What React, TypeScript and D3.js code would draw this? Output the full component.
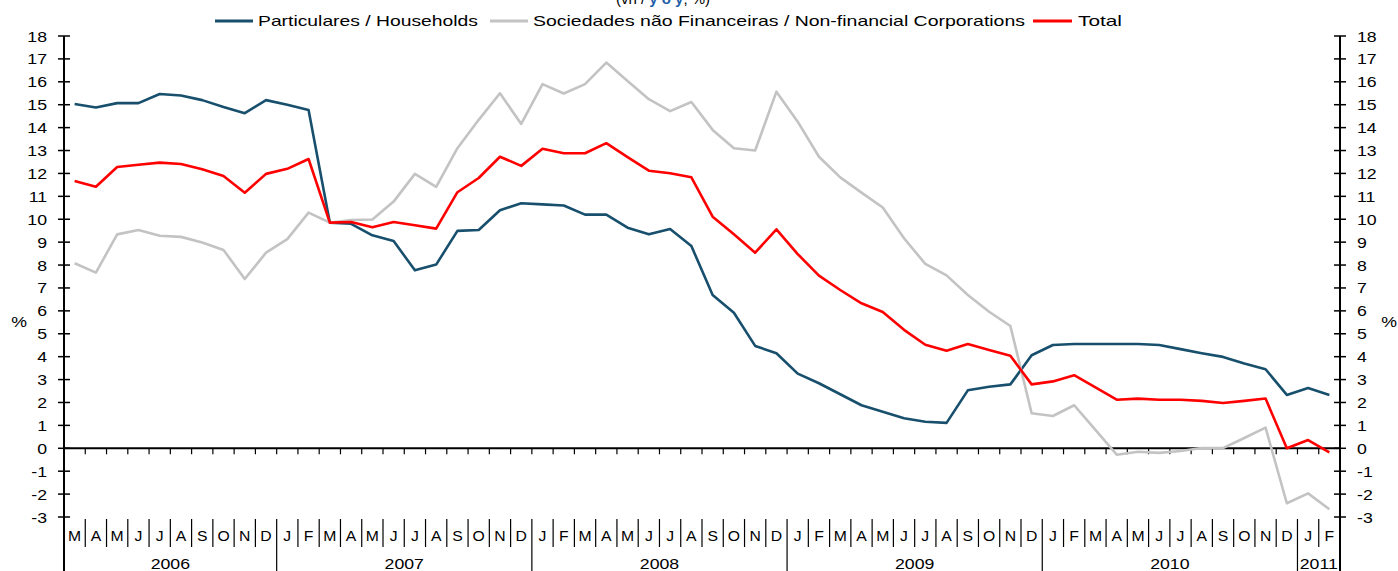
import React from "react";
import * as d3 from "d3";

const monthLabels = [
  "M","A","M","J","J","A","S","O","N","D",
  "J","F","M","A","M","J","J","A","S","O","N","D",
  "J","F","M","A","M","J","J","A","S","O","N","D",
  "J","F","M","A","M","J","J","A","S","O","N","D",
  "J","F","M","A","M","J","J","A","S","O","N","D",
  "J","F",
];
const yearLabels = ["2006", "2007", "2008", "2009", "2010", "2011"];
const yearMonthCounts = [10, 12, 12, 12, 12, 2];

const households = [
  15.03, 14.88, 15.07, 15.07, 15.47, 15.4, 15.2, 14.9, 14.63, 15.2,
  15.0, 14.77, 9.85, 9.8, 9.3, 9.05, 7.77, 8.02, 9.49, 9.53, 10.39, 10.7,
  10.65, 10.6, 10.2, 10.2, 9.63, 9.34, 9.57, 8.83, 6.69, 5.92, 4.47, 4.15,
  3.26, 2.84, 2.36, 1.88, 1.6, 1.31, 1.16, 1.11, 2.53, 2.69, 2.79, 4.06,
  4.51, 4.55, 4.55, 4.55, 4.55, 4.51, 4.33, 4.15, 3.99, 3.7, 3.45,
  2.33, 2.63, 2.33,
];
const corporations = [
  8.08, 7.67, 9.34, 9.53, 9.28, 9.23, 8.98, 8.66, 7.39, 8.54,
  9.13, 10.29, 9.85, 9.97, 9.99, 10.77, 11.98, 11.41, 13.1, 14.34, 15.5, 14.16,
  15.9, 15.49, 15.9, 16.84, 16.04, 15.24, 14.72, 15.12, 13.9, 13.1, 13.0, 15.57,
  14.26, 12.73, 11.83, 11.16, 10.51, 9.17, 8.05, 7.55, 6.69, 5.96, 5.34, 1.53,
  1.41, 1.88, 0.8, -0.28, -0.15, -0.2, -0.12, 0.01, 0.01, 0.45, 0.9,
  -2.4, -1.97, -2.66,
];
const total = [
  11.67, 11.42, 12.28, 12.38, 12.47, 12.41, 12.18, 11.89, 11.16, 11.98,
  12.2, 12.63, 9.85, 9.88, 9.65, 9.88, 9.74, 9.59, 11.18, 11.8, 12.73, 12.33,
  13.08, 12.88, 12.88, 13.32, 12.71, 12.12, 12.01, 11.83, 10.11, 9.34, 8.54, 9.56,
  8.48, 7.54, 6.91, 6.33, 5.95, 5.17, 4.52, 4.26, 4.55, 4.29, 4.04, 2.79,
  2.92, 3.19, 2.66, 2.12, 2.17, 2.12, 2.12, 2.07, 1.98, 2.07, 2.17,
  0.0, 0.36, -0.18,
];
const yTicks = d3.range(-3, 19);

const seriesNames = [
  "Particulares / Households",
  "Sociedades não Financeiras / Non-financial Corporations",
  "Total",
];

const W = 1398;
const H = 571;
const X0 = 64;
const X1 = 1340;
const FONT = "'Liberation Sans', Arial, sans-serif";
const SX = 1.18;
const COLORS = ["#174f6d", "#c3c3c3", "#ff0000"];

export default function App() {
  const n = monthLabels.length;
  const x = d3
    .scaleBand<number>()
    .domain(d3.range(n))
    .range([X0, X1])
    .padding(0);
  const bw = x.bandwidth();
  const y = d3.scaleLinear().domain([-3, 18]).range([517, 36]);
  const cx = (i: number) => (x(i) as number) + bw / 2;
  const line = d3
    .line<number>()
    .x((_, i) => cx(i))
    .y((d) => y(d));

  const series = [households, corporations, total];

  // year boundaries
  const yearStarts: number[] = [];
  let acc = 0;
  yearMonthCounts.forEach((c) => {
    yearStarts.push(acc);
    acc += c;
  });

  const legendItems = [
    { x1: 215, x2: 253, tx: 258, tw: 220 },
    { x1: 490, x2: 528, tx: 533, tw: 492 },
    { x1: 1033, x2: 1072, tx: 1078, tw: 44 },
  ];

  return (
    <svg
      width={W}
      height={H}
      style={{ position: "absolute", left: 0, top: 0, background: "#fff" }}
      fontFamily={FONT}
    >
      {/* title (cut off at top) */}
      <text x={663} y={4} fontSize={15} textAnchor="middle" fill="#000">
        (vh /{" "}
        <tspan fill="#1f5fa8" fontWeight="bold">
          y o y
        </tspan>
        , %)
      </text>

      {/* legend */}
      {legendItems.map((l, i) => (
        <g key={i}>
          <line x1={l.x1} x2={l.x2} y1={21} y2={21} stroke={COLORS[i]} strokeWidth={3} />
          <text
            x={l.tx}
            y={26}
            fontSize={15}
            textLength={l.tw}
            lengthAdjust="spacingAndGlyphs"
            fill="#000"
          >
            {seriesNames[i]}
          </text>
        </g>
      ))}

      {/* axes */}
      <line x1={X0} x2={X0} y1={y(18)} y2={H} stroke="#000" strokeWidth={2} />
      <line x1={X1} x2={X1} y1={y(18)} y2={H} stroke="#000" strokeWidth={2} />
      {yTicks.map((t) => (
        <g key={t}>
          <line x1={X0 - 6} x2={X0 + 6} y1={y(t)} y2={y(t)} stroke="#000" strokeWidth={1.5} />
          <line x1={X1 - 6} x2={X1 + 6} y1={y(t)} y2={y(t)} stroke="#000" strokeWidth={1.5} />
          <text
            transform={`translate(47,${y(t) + 5.5}) scale(${SX},1)`}
            fontSize={15}
            textAnchor="end"
            fill="#000"
          >
            {t}
          </text>
          <text
            transform={`translate(1357,${y(t) + 5.5}) scale(${SX},1)`}
            fontSize={15}
            textAnchor="start"
            fill="#000"
          >
            {t}
          </text>
        </g>
      ))}
      <text transform={`translate(19,${327}) scale(${SX},1)`} fontSize={15} textAnchor="middle">
        %
      </text>
      <text transform={`translate(1389,${327}) scale(${SX},1)`} fontSize={15} textAnchor="middle">
        %
      </text>

      {/* zero line with ticks */}
      <line x1={X0} x2={X1} y1={y(0)} y2={y(0)} stroke="#000" strokeWidth={2} />
      {d3.range(1, n).map((i) => (
        <line
          key={i}
          x1={x(i) as number}
          x2={x(i) as number}
          y1={y(0)}
          y2={y(0) + 6}
          stroke="#000"
          strokeWidth={1.2}
        />
      ))}

      {/* series */}
      {series.map((s, i) => (
        <path
          key={i}
          d={line(s) || ""}
          fill="none"
          stroke={COLORS[i]}
          strokeWidth={2.6}
          strokeLinejoin="round"
        />
      ))}

      {/* month labels & separators */}
      {monthLabels.map((m, i) => (
        <text
          key={i}
          transform={`translate(${cx(i)},${541}) scale(1.05,1)`}
          fontSize={15}
          textAnchor="middle"
          fill="#000"
        >
          {m}
        </text>
      ))}
      {d3.range(1, n).map((i) => {
        const isYear = yearStarts.includes(i);
        return (
          <line
            key={i}
            x1={x(i) as number}
            x2={x(i) as number}
            y1={519}
            y2={isYear ? H : 547}
            stroke="#000"
            strokeWidth={1.2}
          />
        );
      })}
      {yearLabels.map((yl, k) => {
        const s = yearStarts[k];
        const e = s + yearMonthCounts[k];
        const mx = ((x(s) as number) + (e >= n ? X1 : (x(e) as number))) / 2;
        return (
          <text
            key={yl}
            transform={`translate(${mx},${569}) scale(${SX},1)`}
            fontSize={15}
            textAnchor="middle"
            fill="#000"
          >
            {yl}
          </text>
        );
      })}
    </svg>
  );
}
